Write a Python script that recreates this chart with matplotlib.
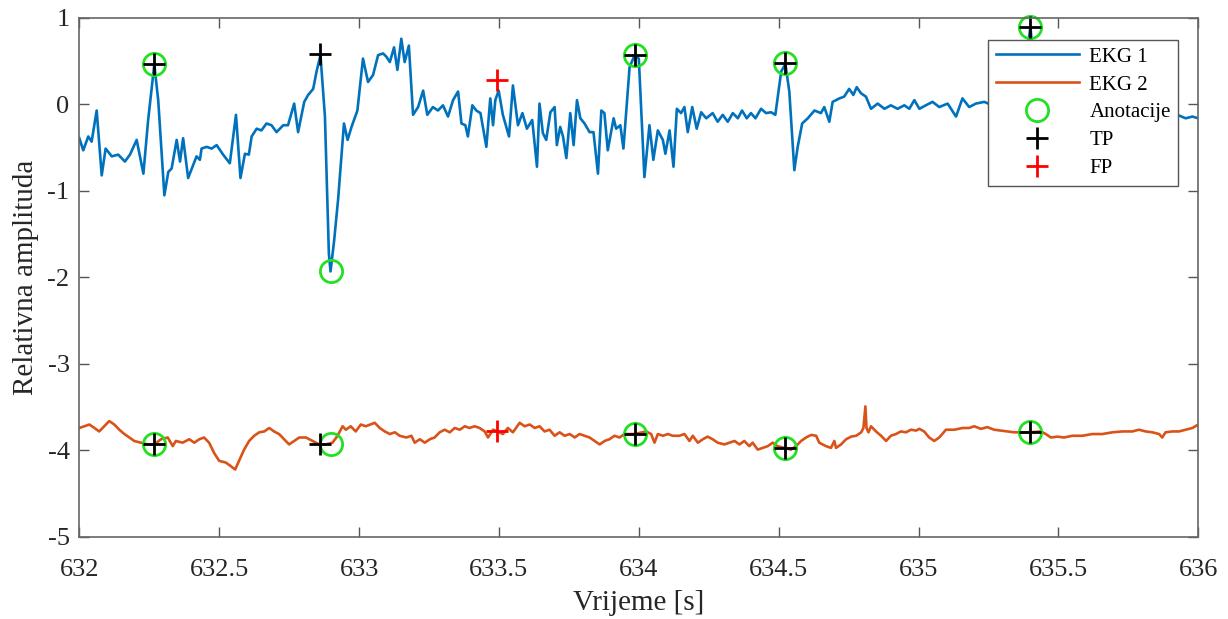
import matplotlib
matplotlib.use('Agg')
import matplotlib.pyplot as plt
from matplotlib.ticker import FormatStrFormatter, MultipleLocator

# EKG 1 (gornji kanal)
ekg1_t = [632.000, 632.014, 632.032, 632.044, 632.062, 632.080, 632.094, 632.116, 632.139, 632.163,
          632.181, 632.205, 632.229, 632.246, 632.268, 632.282, 632.304, 632.318, 632.330, 632.348,
          632.360, 632.371, 632.389, 632.407, 632.419, 632.431, 632.437, 632.455, 632.473, 632.491,
          632.514, 632.538, 632.560, 632.576, 632.592, 632.606, 632.616, 632.634, 632.651, 632.669,
          632.687, 632.705, 632.729, 632.746, 632.768, 632.782, 632.804, 632.818, 632.836, 632.848,
          632.862, 632.878, 632.892, 632.898, 632.911, 632.925, 632.946, 632.959, 632.973, 632.994,
          633.014, 633.032, 633.050, 633.068, 633.086, 633.098, 633.110, 633.125, 633.137, 633.151,
          633.163, 633.178, 633.193, 633.211, 633.229, 633.244, 633.264, 633.282, 633.300, 633.318,
          633.336, 633.354, 633.366, 633.380, 633.389, 633.405, 633.419, 633.434, 633.455, 633.469,
          633.479, 633.487, 633.499, 633.514, 633.536, 633.550, 633.568, 633.584, 633.600, 633.619,
          633.636, 633.645, 633.657, 633.669, 633.684, 633.699, 633.707, 633.719, 633.729, 633.741,
          633.755, 633.767, 633.779, 633.791, 633.806, 633.824, 633.838, 633.854, 633.866, 633.877,
          633.889, 633.910, 633.919, 633.934, 633.945, 633.967, 633.985, 634.000, 634.020, 634.038,
          634.052, 634.068, 634.086, 634.095, 634.110, 634.124, 634.136, 634.151, 634.163, 634.175,
          634.191, 634.207, 634.223, 634.241, 634.264, 634.282, 634.300, 634.318, 634.336, 634.354,
          634.369, 634.386, 634.401, 634.417, 634.437, 634.455, 634.473, 634.488, 634.509, 634.524,
          634.538, 634.556, 634.568, 634.584, 634.604, 634.628, 634.651, 634.663, 634.681, 634.693,
          634.717, 634.734, 634.752, 634.767, 634.779, 634.794, 634.812, 634.830, 634.854, 634.878,
          634.901, 634.925, 634.949, 634.967, 634.985, 635.003, 635.026, 635.050, 635.074, 635.104,
          635.134, 635.157, 635.181, 635.205, 635.235, 635.270, 635.310, 635.350, 635.380, 635.400,
          635.415, 635.435, 635.460, 635.520, 635.600, 635.700, 635.800, 635.880, 635.925, 635.955,
          635.979, 636.000]
ekg1_v = [-0.39, -0.53, -0.37, -0.43, -0.07, -0.82, -0.51, -0.60, -0.58, -0.66,
          -0.58, -0.41, -0.80, -0.18, 0.46, 0.05, -1.05, -0.78, -0.74, -0.41,
          -0.66, -0.39, -0.85, -0.70, -0.60, -0.64, -0.51, -0.49, -0.51, -0.47,
          -0.58, -0.68, -0.12, -0.85, -0.57, -0.58, -0.37, -0.28, -0.30, -0.22,
          -0.24, -0.32, -0.24, -0.24, 0.01, -0.32, 0.03, 0.11, 0.18, 0.38,
          0.57, -0.14, -1.72, -1.93, -1.57, -1.10, -0.22, -0.41, -0.26, -0.07,
          0.53, 0.26, 0.34, 0.57, 0.59, 0.55, 0.49, 0.66, 0.40, 0.76,
          0.49, 0.68, -0.12, -0.03, 0.16, -0.12, -0.03, -0.07, -0.01, -0.14,
          0.05, 0.15, -0.22, -0.24, -0.37, -0.01, -0.07, -0.10, -0.49, 0.07,
          -0.24, 0.05, 0.16, -0.12, -0.37, 0.22, -0.24, -0.10, -0.28, -0.18,
          -0.72, 0.01, -0.33, -0.41, -0.09, -0.03, -0.47, -0.26, -0.37, -0.62,
          -0.10, -0.47, 0.05, -0.16, -0.22, -0.32, -0.32, -0.80, -0.07, -0.10,
          -0.53, -0.16, -0.28, -0.24, -0.51, 0.43, 0.57, 0.53, -0.84, -0.24,
          -0.64, -0.30, -0.41, -0.57, -0.30, -0.72, -0.05, -0.10, -0.03, -0.32,
          -0.03, -0.28, -0.09, -0.16, -0.10, -0.20, -0.12, -0.20, -0.10, -0.16,
          -0.07, -0.16, -0.10, -0.16, -0.05, -0.10, -0.09, -0.12, 0.38, 0.47,
          0.15, -0.76, -0.49, -0.22, -0.16, -0.07, -0.10, -0.03, -0.20, 0.03,
          0.07, 0.09, 0.18, 0.11, 0.20, 0.13, 0.09, -0.05, 0.01, -0.05,
          -0.01, -0.05, -0.01, -0.05, 0.05, -0.05, -0.01, 0.03, -0.03, 0.01,
          -0.14, 0.07, -0.03, 0.01, 0.03, -0.02, 0.02, -0.05, 0.40, 0.90,
          0.30, -0.45, -0.10, -0.05, -0.08, -0.06, -0.10, -0.08, -0.12, -0.16,
          -0.14, -0.16]

# EKG 2 (donji kanal)
ekg2_t = [632.000, 632.018, 632.036, 632.054, 632.071, 632.089, 632.107, 632.125, 632.143, 632.161,
          632.179, 632.196, 632.220, 632.244, 632.268, 632.292, 632.316, 632.334, 632.345, 632.369,
          632.393, 632.411, 632.429, 632.446, 632.464, 632.482, 632.500, 632.524, 632.541, 632.557,
          632.571, 632.589, 632.607, 632.625, 632.643, 632.661, 632.679, 632.696, 632.714, 632.732,
          632.750, 632.768, 632.786, 632.810, 632.834, 632.857, 632.881, 632.905, 632.923, 632.941,
          632.953, 632.970, 632.988, 633.006, 633.024, 633.048, 633.056, 633.074, 633.092, 633.110,
          633.128, 633.145, 633.169, 633.187, 633.199, 633.217, 633.235, 633.253, 633.270, 633.288,
          633.306, 633.324, 633.342, 633.360, 633.378, 633.395, 633.413, 633.431, 633.449, 633.461,
          633.479, 633.496, 633.514, 633.532, 633.550, 633.574, 633.592, 633.610, 633.628, 633.645,
          633.663, 633.681, 633.699, 633.717, 633.735, 633.753, 633.771, 633.788, 633.806, 633.824,
          633.842, 633.860, 633.878, 633.895, 633.913, 633.931, 633.949, 633.985, 634.026, 634.044,
          634.056, 634.068, 634.086, 634.104, 634.121, 634.145, 634.163, 634.181, 634.193, 634.211,
          634.229, 634.246, 634.264, 634.282, 634.306, 634.324, 634.342, 634.360, 634.377, 634.395,
          634.407, 634.425, 634.443, 634.461, 634.479, 634.496, 634.520, 634.544, 634.562, 634.580,
          634.598, 634.616, 634.634, 634.645, 634.657, 634.669, 634.687, 634.699, 634.705, 634.723,
          634.741, 634.759, 634.777, 634.795, 634.803, 634.810, 634.814, 634.821, 634.830, 634.848,
          634.866, 634.884, 634.901, 634.919, 634.937, 634.955, 634.973, 634.991, 635.003, 635.020,
          635.038, 635.056, 635.074, 635.098, 635.128, 635.157, 635.181, 635.199, 635.223, 635.246,
          635.270, 635.294, 635.318, 635.342, 635.366, 635.401, 635.437, 635.455, 635.473, 635.496,
          635.520, 635.550, 635.586, 635.621, 635.657, 635.693, 635.729, 635.764, 635.788, 635.812,
          635.836, 635.860, 635.871, 635.883, 635.907, 635.931, 635.955, 635.979, 636.000]
ekg2_v = [-3.74, -3.72, -3.70, -3.74, -3.78, -3.72, -3.66, -3.70, -3.76, -3.81,
          -3.85, -3.89, -3.91, -3.93, -3.93, -3.87, -3.85, -3.95, -3.89, -3.91,
          -3.87, -3.91, -3.87, -3.85, -3.91, -4.03, -4.12, -4.14, -4.18, -4.22,
          -4.12, -3.99, -3.89, -3.83, -3.79, -3.78, -3.74, -3.78, -3.81, -3.87,
          -3.93, -3.89, -3.85, -3.85, -3.89, -3.93, -3.93, -3.91, -3.83, -3.72,
          -3.76, -3.72, -3.78, -3.70, -3.72, -3.69, -3.68, -3.74, -3.78, -3.81,
          -3.79, -3.83, -3.85, -3.83, -3.91, -3.87, -3.91, -3.87, -3.85, -3.79,
          -3.76, -3.79, -3.74, -3.76, -3.72, -3.74, -3.72, -3.74, -3.78, -3.85,
          -3.76, -3.78, -3.81, -3.74, -3.79, -3.68, -3.72, -3.70, -3.74, -3.72,
          -3.78, -3.76, -3.83, -3.79, -3.83, -3.81, -3.85, -3.81, -3.83, -3.85,
          -3.89, -3.93, -3.89, -3.87, -3.83, -3.85, -3.81, -3.81, -3.78, -3.81,
          -3.91, -3.81, -3.83, -3.81, -3.83, -3.83, -3.81, -3.89, -3.83, -3.91,
          -3.87, -3.84, -3.87, -3.91, -3.93, -3.91, -3.89, -3.93, -3.89, -3.95,
          -3.91, -3.99, -3.97, -3.95, -3.91, -3.95, -3.97, -3.99, -3.95, -3.89,
          -3.85, -3.82, -3.83, -3.91, -3.93, -3.95, -3.97, -3.89, -3.97, -3.93,
          -3.87, -3.84, -3.83, -3.79, -3.74, -3.49, -3.74, -3.79, -3.72, -3.78,
          -3.83, -3.89, -3.83, -3.81, -3.78, -3.79, -3.76, -3.77, -3.75, -3.78,
          -3.85, -3.89, -3.85, -3.76, -3.76, -3.74, -3.74, -3.72, -3.75, -3.73,
          -3.76, -3.77, -3.78, -3.79, -3.79, -3.79, -3.78, -3.81, -3.85, -3.84,
          -3.85, -3.83, -3.83, -3.81, -3.81, -3.79, -3.78, -3.78, -3.76, -3.78,
          -3.79, -3.81, -3.85, -3.79, -3.78, -3.78, -3.76, -3.74, -3.70]

# anotacije i detekcije
ann_t = [632.268, 632.899, 633.985, 634.524, 635.400]
ann1_v = [0.47, -1.93, 0.57, 0.48, 0.90]
ann2_v = [-3.93, -3.92, -3.81, -3.97, -3.79]
tp_t = [632.268, 632.860, 633.985, 634.524, 635.400]
tp1_v = [0.47, 0.58, 0.57, 0.48, 0.90]
tp2_v = [-3.93, -3.92, -3.81, -3.97, -3.79]
fp_t = [633.493]
fp1_v = [0.28]
fp2_v = [-3.78]

plt.rcParams['font.family'] = ['Liberation Serif', 'DejaVu Serif']
plt.rcParams['axes.unicode_minus'] = False

fig = plt.figure(figsize=(12.28, 6.19), dpi=100)
ax = fig.add_axes([0.0646, 0.1325, 0.9112, 0.8385])

ax.plot(ekg1_t, ekg1_v, color='#0072BD', lw=1.9, label='EKG 1')
ax.plot(ekg2_t, ekg2_v, color='#D95319', lw=1.9, label='EKG 2')
ax.plot(ann_t, ann1_v, 'o', ms=16, mfc='none', mec='#22E022', mew=2, label='Anotacije', clip_on=False)
ax.plot(ann_t, ann2_v, 'o', ms=16, mfc='none', mec='#22E022', mew=2)
ax.plot(tp_t, tp1_v, '+', ms=16, color='black', mew=2, label='TP', clip_on=False)
ax.plot(tp_t, tp2_v, '+', ms=16, color='black', mew=2)
ax.plot(fp_t, fp1_v, '+', ms=16, color='red', mew=2, label='FP')
ax.plot(fp_t, fp2_v, '+', ms=16, color='red', mew=2)

ax.set_xlim(632, 636)
ax.set_ylim(-5, 1)
ax.xaxis.set_major_locator(MultipleLocator(0.5))
ax.yaxis.set_major_locator(MultipleLocator(1))
ax.xaxis.set_major_formatter(FormatStrFormatter('%g'))
ax.tick_params(direction='in', top=True, right=True, length=7, width=1, colors='#555555',
               labelcolor='#262626', labelsize=19)
ax.tick_params(axis='x', pad=16)
ax.tick_params(axis='y', pad=7)
for s in ax.spines.values():
    s.set_color('#666666')
    s.set_linewidth(1.2)

ax.set_xlabel('Vrijeme [s]', fontsize=21, color='#262626', labelpad=6)
ax.set_ylabel('Relativna amplituda', fontsize=21, color='#262626', labelpad=6)

leg = ax.legend(loc='upper right', bbox_to_anchor=(0.982, 0.958), borderaxespad=0,
                fontsize=15, handlelength=4.0, labelspacing=0.4, fancybox=False,
                framealpha=1, edgecolor='#555555', borderpad=0.35, handletextpad=0.5)
leg.get_frame().set_linewidth(1.0)

fig.savefig('out.png', dpi=100)
